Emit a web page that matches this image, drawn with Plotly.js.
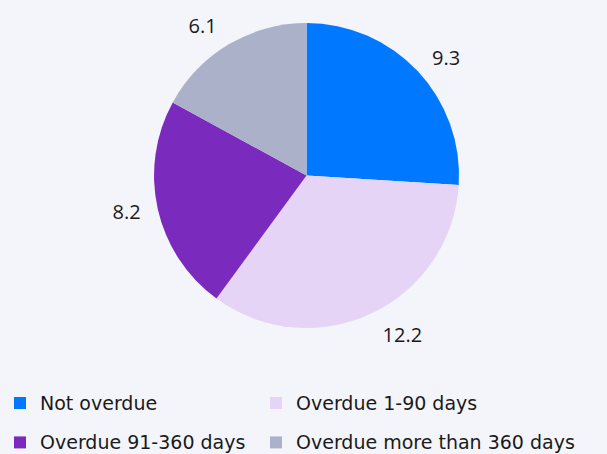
<!DOCTYPE html>
<html><head><meta charset="utf-8">
<script src="https://cdn.plot.ly/plotly-3.0.1.min.js"></script>
<style>html,body{margin:0;padding:0;background:#f4f5fa;}</style>
</head><body><div id="chart" style="width:607px;height:454px;"></div>
<script>
const categories = ["Not overdue", "Overdue 1-90 days", "Overdue 91-360 days", "Overdue more than 360 days"];
const values = [9.3, 12.2, 8.2, 6.1];
const colors = ["#0078ff", "#e5d4f5", "#7a2bbd", "#abb1c8"];

const legendLabels = categories.map(c => '<span style="font-size:19px;baseline-shift:4px">' + c + '</span>');

// invisible, slightly larger pie that only carries the outside value labels
const labelPie = {
  type: 'pie',
  labels: legendLabels,
  values: values,
  sort: false,
  direction: 'clockwise',
  rotation: 0,
  marker: {colors: categories.map(() => 'rgba(0,0,0,0)'), line: {width: 0}},
  textinfo: 'value',
  textposition: 'outside',
  texttemplate: '%{value}',
  outsidetextfont: {size: 20, color: '#1a1a1a', family: 'Open Sans'},
  hoverinfo: 'none',
  showlegend: false,
  domain: {x: [0.01, 1], y: [0.2544, 0.9724]}
};

const mainPie = {
  type: 'pie',
  labels: legendLabels,
  values: values,
  sort: false,
  direction: 'clockwise',
  rotation: 0,
  marker: {colors: colors, line: {width: 0}},
  textinfo: 'none',
  hoverinfo: 'none',
  domain: {x: [0.01, 1], y: [0.2775, 0.9493]}
};

Plotly.newPlot('chart', [labelPie, mainPie], {
  width: 607, height: 454,
  paper_bgcolor: '#f4f5fa', plot_bgcolor: '#f4f5fa',
  margin: {l: 0, r: 0, t: 0, b: 0, autoexpand: false},
  showlegend: true,
  legend: {
    orientation: 'h', x: 0, y: 0.1667, xanchor: 'left', yanchor: 'top',
    entrywidth: 211, entrywidthmode: 'pixels',
    bgcolor: 'rgba(0,0,0,0)', borderwidth: 0,
    maxheight: 400,
    font: {size: 28, color: '#1a1a1a', family: 'DejaVu Sans'},
    traceorder: 'normal'
  },
  font: {family: 'Open Sans', color: '#1a1a1a'}
}, {displayModeBar: false, staticPlot: true}).then(function () {
  // let the long last legend entry run past the legend's computed box
  document.querySelectorAll('g.legend[clip-path], g.legend [clip-path]').forEach(function (el) {
    el.removeAttribute('clip-path');
  });
});
</script></body></html>
